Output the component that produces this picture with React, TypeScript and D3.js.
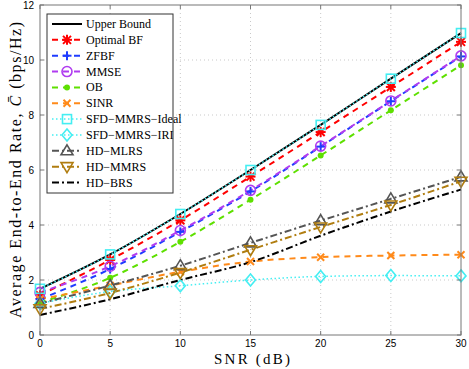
import React from "react";
import * as d3 from "d3";

const snr = [0, 5, 10, 15, 20, 25, 30];

const upperBound = [1.68, 2.93, 4.4, 6.0, 7.64, 9.32, 10.98];
const optimalBF = [1.45, 2.73, 4.17, 5.76, 7.38, 9.02, 10.66];
const zfbf = [1.3, 2.4, 3.75, 5.22, 6.85, 8.5, 10.13];
const mmse = [1.55, 2.5, 3.8, 5.26, 6.87, 8.51, 10.15];
const ob = [1.18, 2.08, 3.39, 4.92, 6.53, 8.17, 9.81];
const sinr = [1.3, 1.8, 2.3, 2.67, 2.83, 2.89, 2.92];
const sfdIdeal = [1.68, 2.93, 4.4, 6.0, 7.64, 9.32, 10.98];
const sfdIri = [1.15, 1.58, 1.79, 2.0, 2.13, 2.16, 2.15];
const hdMlrs = [1.15, 1.8, 2.52, 3.35, 4.16, 4.95, 5.75];
const hdMmrs = [0.95, 1.53, 2.27, 3.1, 3.93, 4.73, 5.59];
const hdBrs = [0.73, 1.3, 2.0, 2.65, 3.61, 4.49, 5.29];

const xTicks = [0, 5, 10, 15, 20, 25, 30];
const yTicks = [0, 2, 4, 6, 8, 10, 12];

type Marker = "none" | "star" | "plus" | "circle" | "dot" | "x" | "square" | "diamond" | "up" | "down";

const series: { name: string; values: number[]; color: string; dash: string; width: number; marker: Marker }[] = [
  { name: "Upper Bound", values: upperBound, color: "#000000", dash: "", width: 2, marker: "none" },
  { name: "Optimal BF", values: optimalBF, color: "#ff0000", dash: "6,5", width: 2, marker: "star" },
  { name: "ZFBF", values: zfbf, color: "#1f3cff", dash: "6,5", width: 2, marker: "plus" },
  { name: "MMSE", values: mmse, color: "#b03cf0", dash: "6,5", width: 2, marker: "circle" },
  { name: "OB", values: ob, color: "#5ee000", dash: "6,5", width: 2, marker: "dot" },
  { name: "SINR", values: sinr, color: "#ff8a1a", dash: "6,5", width: 2, marker: "x" },
  { name: "SFD\u2212MMRS\u2212Ideal", values: sfdIdeal, color: "#44eef2", dash: "1.5,2.5", width: 1.5, marker: "square" },
  { name: "SFD\u2212MMRS\u2212IRI", values: sfdIri, color: "#44eef2", dash: "1.5,2.5", width: 1.5, marker: "diamond" },
  { name: "HD\u2212MLRS", values: hdMlrs, color: "#555555", dash: "7,3,2,3", width: 2, marker: "up" },
  { name: "HD\u2212MMRS", values: hdMmrs, color: "#b07d10", dash: "7,3,2,3", width: 2, marker: "down" },
  { name: "HD\u2212BRS", values: hdBrs, color: "#000000", dash: "7,3,2,3", width: 2, marker: "none" },
];

function MarkerShape({ kind, x, y, color }: { kind: Marker; x: number; y: number; color: string }) {
  const s = { stroke: color, strokeWidth: 1.6, fill: "none" };
  switch (kind) {
    case "star":
      return (
        <g {...s} strokeWidth={2}>
          <line x1={x - 5} y1={y} x2={x + 5} y2={y} />
          <line x1={x} y1={y - 5} x2={x} y2={y + 5} />
          <line x1={x - 4} y1={y - 4} x2={x + 4} y2={y + 4} />
          <line x1={x - 4} y1={y + 4} x2={x + 4} y2={y - 4} />
        </g>
      );
    case "plus":
      return (
        <g {...s} strokeWidth={2}>
          <line x1={x - 4.5} y1={y} x2={x + 4.5} y2={y} />
          <line x1={x} y1={y - 4.5} x2={x} y2={y + 4.5} />
        </g>
      );
    case "circle":
      return <circle cx={x} cy={y} r={5} {...s} />;
    case "dot":
      return <circle cx={x} cy={y} r={3} fill={color} />;
    case "x":
      return (
        <g {...s} strokeWidth={2}>
          <line x1={x - 3.5} y1={y - 3.5} x2={x + 3.5} y2={y + 3.5} />
          <line x1={x - 3.5} y1={y + 3.5} x2={x + 3.5} y2={y - 3.5} />
        </g>
      );
    case "square":
      return <rect x={x - 4.5} y={y - 4.5} width={9} height={9} {...s} />;
    case "diamond":
      return <path d={`M${x},${y - 6}L${x + 5},${y}L${x},${y + 6}L${x - 5},${y}Z`} {...s} />;
    case "up":
      return <path d={`M${x},${y - 6}L${x + 6},${y + 4}L${x - 6},${y + 4}Z`} {...s} />;
    case "down":
      return <path d={`M${x},${y + 6}L${x + 6},${y - 4}L${x - 6},${y - 4}Z`} {...s} />;
    default:
      return null;
  }
}

export default function App() {
  const width = 469;
  const height = 369;
  const left = 40, right = 461, top = 5, bottom = 335;

  const x = d3.scaleLinear().domain([0, 30]).range([left, right]);
  const y = d3.scaleLinear().domain([0, 12]).range([bottom, top]);

  const line = d3
    .line<number>()
    .x((_, i) => x(snr[i]))
    .y((d) => y(d))
    .curve(d3.curveMonotoneX);

  const legX = 47, legY = 14, legW = 126, legH = 179;
  const rowH = 15.85;

  return (
    <svg width={width} height={height} style={{ position: "absolute", left: 0, top: 0, background: "#fff" }}>
      <rect x={0} y={0} width={width} height={height} fill="#fff" />
      {/* grid */}
      <g stroke="#bbbbbb" strokeWidth={0.8} strokeDasharray="1,3">
        {xTicks.slice(1, -1).map((t) => (
          <line key={"gx" + t} x1={x(t)} x2={x(t)} y1={top} y2={bottom} />
        ))}
        {yTicks.slice(1, -1).map((t) => (
          <line key={"gy" + t} x1={left} x2={right} y1={y(t)} y2={y(t)} />
        ))}
      </g>

      {/* series */}
      {series.map((s) => (
        <path
          key={s.name}
          d={line(s.values) || ""}
          fill="none"
          stroke={s.color}
          strokeWidth={s.width}
          strokeDasharray={s.dash}
        />
      ))}
      {series.map((s) =>
        s.values.map((v, i) => (
          <MarkerShape key={s.name + i} kind={s.marker} x={x(snr[i])} y={y(v)} color={s.color} />
        ))
      )}

      {/* axes box & ticks */}
      <rect x={left} y={top} width={right - left} height={bottom - top} fill="none" stroke="#777" strokeWidth={1} />
      <g stroke="#777" strokeWidth={1}>
        {xTicks.map((t) => (
          <g key={"tx" + t}>
            <line x1={x(t)} x2={x(t)} y1={bottom} y2={bottom - 4} />
            <line x1={x(t)} x2={x(t)} y1={top} y2={top + 4} />
          </g>
        ))}
        {yTicks.map((t) => (
          <g key={"ty" + t}>
            <line x1={left} x2={left + 4} y1={y(t)} y2={y(t)} />
            <line x1={right} x2={right - 4} y1={y(t)} y2={y(t)} />
          </g>
        ))}
      </g>
      <g fontFamily="Liberation Sans, Arial, sans-serif" fontSize={10} fill="#000">
        {xTicks.map((t) => (
          <text key={"lx" + t} x={x(t)} y={bottom + 12} textAnchor="middle">
            {t}
          </text>
        ))}
        {yTicks.map((t) => (
          <text key={"ly" + t} x={left - 6} y={y(t) + 3.5} textAnchor="end">
            {t}
          </text>
        ))}
      </g>

      {/* axis titles */}
      <text
        x={252}
        y={364}
        textAnchor="middle"
        fontFamily="Liberation Serif, Times New Roman, serif"
        fontSize={15}
        textLength={76}
        lengthAdjust="spacing"
      >
        SNR (dB)
      </text>
      <text
        transform={`translate(21,170) rotate(-90)`}
        textAnchor="middle"
        fontFamily="Liberation Serif, Times New Roman, serif"
        fontSize={16}
        textLength={296}
        lengthAdjust="spacing"
      >
        Average End-to-End Rate, <tspan fontStyle="italic">C&#772;</tspan> (bps/Hz)
      </text>

      {/* legend */}
      <rect x={legX} y={legY} width={legW} height={legH} fill="#fff" stroke="#333" strokeWidth={1} />
      {series.map((s, i) => {
        const cy = 24 + i * rowH;
        return (
          <g key={"leg" + s.name}>
            <line
              x1={52}
              x2={82}
              y1={cy}
              y2={cy}
              stroke={s.color}
              strokeWidth={s.width}
              strokeDasharray={s.dash}
            />
            <MarkerShape kind={s.marker} x={67} y={cy} color={s.color} />
            <text
              x={86}
              y={cy + 4}
              fontFamily="Liberation Serif, Times New Roman, serif"
              fontSize={12}
              fill="#000"
            >
              {s.name}
            </text>
          </g>
        );
      })}
    </svg>
  );
}
